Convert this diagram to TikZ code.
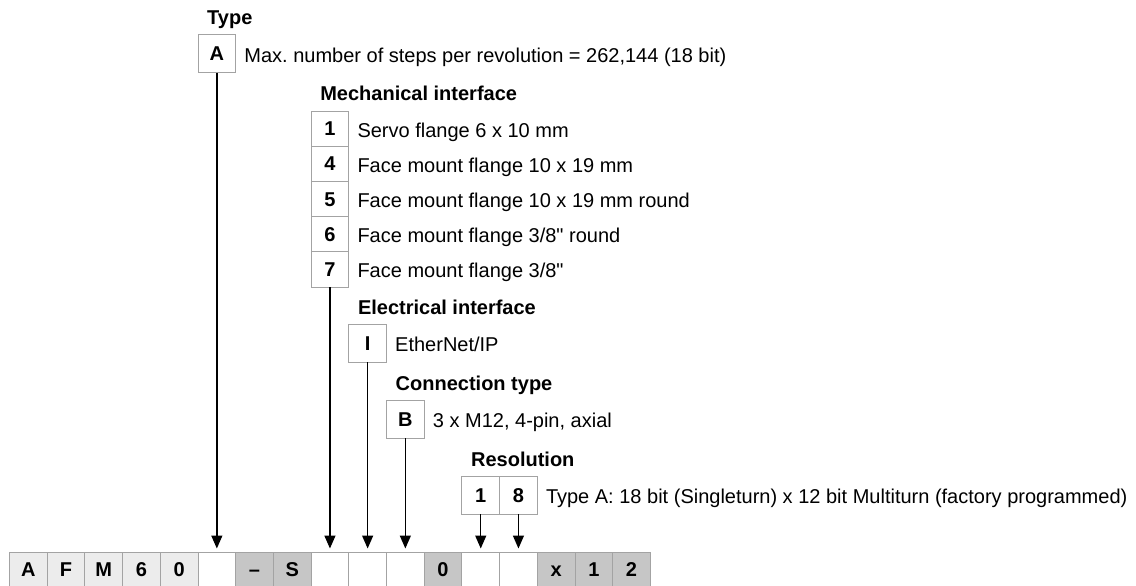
\documentclass[tikz,border=0pt]{standalone}
\usepackage{fontspec}
\newfontfamily\diagfont{Liberation Sans}
\usepackage{tikz}
\usetikzlibrary{arrows.meta, positioning}
\frenchspacing

\definecolor{keyborder}{HTML}{A3A3A3}
\definecolor{fixedlight}{HTML}{ECECEC}
\definecolor{fixeddark}{HTML}{C6C6C6}

\begin{document}
\begin{tikzpicture}[x=1pt, y=-1pt, >={Triangle[width=11pt, length=13pt]}, line width=1.4pt,
		key/.style={draw=keyborder, line width=1pt, minimum width=37.7pt, minimum height=38pt, inner sep=0pt, outer sep=0pt,
			text height=14pt, text depth=0pt, font=\diagfont\fontsize{20}{24}\selectfont\bfseries},
		stack/.style={key, minimum height=35.2pt},
		cell/.style={key, minimum height=34pt},
		desc/.style={anchor=west, inner sep=0pt, text height=14pt, text depth=0pt, font=\diagfont\fontsize{20}{24}\selectfont},
		head/.style={desc, font=\diagfont\fontsize{20}{24}\selectfont\bfseries}]
	\useasboundingbox (0,0) rectangle (1136,586);

	\foreach \i/\ch/\shade in {0/A/fixedlight, 1/F/fixedlight, 2/M/fixedlight, 3/6/fixedlight, 4/0/fixedlight,
			5//white, 6/–/fixeddark, 7/S/fixeddark, 8//white, 9//white, 10//white, 11/0/fixeddark,
			12//white, 13//white, 14/x/fixeddark, 15/1/fixeddark, 16/2/fixeddark}
		\node[cell, fill=\shade] (c\i) at ({28.35+37.7*\i}, 569) {\ch};

	\node[key] (TypeA) at (c5 |- 0,54) {A};
	\node[head] (TypeHead) at ([xshift=8.5pt, yshift=17pt]TypeA.north west) {Type};
	\node[desc, right=8pt of TypeA, yshift=-1.5pt] (TypeText)
		{Max. number of steps per revolution = 262,144 (18 bit)};

	\node[stack] (Mech1) at (c8 |- 0,128.6) {1};
	\node[stack, below=0pt of Mech1] (Mech4) {4};
	\node[stack, below=0pt of Mech4] (Mech5) {5};
	\node[stack, below=0pt of Mech5] (Mech6) {6};
	\node[stack, below=0pt of Mech6] (Mech7) {7};
	\node[head] (MechHead) at ([xshift=8.5pt, yshift=17pt]Mech1.north west) {Mechanical interface};
	\node[desc, right=8pt of Mech1, yshift=-1.5pt] (Mech1Text) {Servo flange 6 x 10 mm};
	\node[desc, right=8pt of Mech4, yshift=-1.5pt] (Mech4Text) {Face mount flange 10 x 19 mm};
	\node[desc, right=8pt of Mech5, yshift=-1.5pt] (Mech5Text) {Face mount flange 10 x 19 mm round};
	\node[desc, right=8pt of Mech6, yshift=-1.5pt] (Mech6Text) {Face mount flange 3/8" round};
	\node[desc, right=8pt of Mech7, yshift=-1.5pt] (Mech7Text) {Face mount flange 3/8"};

	\node[key] (ElecI) at (c9 |- 0,343) {I};
	\node[head] (ElecHead) at ([xshift=8.5pt, yshift=17pt]ElecI.north west) {Electrical interface};
	\node[desc, right=8pt of ElecI, yshift=-1.5pt] (ElecText) {EtherNet/IP};

	\node[key] (ConnB) at (c10 |- 0,419) {B};
	\node[head] (ConnHead) at ([xshift=8.5pt, yshift=17pt]ConnB.north west) {Connection type};
	\node[desc, right=8pt of ConnB, yshift=-1.5pt] (ConnText) {3 x M12, 4-pin, axial};

	\node[key] (Res1) at (c12 |- 0,495) {1};
	\node[key] (Res8) at (c13 |- 0,495) {8};
	\node[head] (ResHead) at ([xshift=8.5pt, yshift=17pt]Res1.north west) {Resolution};
	\node[desc, right=8pt of Res8, yshift=-1.5pt] (ResText)
		{Type A: 18 bit (Singleturn) x 12 bit Multiturn (factory programmed)};

	\draw[->, shorten >=3.5pt] (TypeA) -- (c5);
	\draw[->, shorten >=3.5pt] (Mech7) -- (c8);
	\draw[->, shorten >=3.5pt] (ElecI) -- (c9);
	\draw[->, shorten >=3.5pt] (ConnB) -- (c10);
	\draw[->, shorten >=3.5pt] (Res1) -- (c12);
	\draw[->, shorten >=3.5pt] (Res8) -- (c13);
\end{tikzpicture}
\end{document}
